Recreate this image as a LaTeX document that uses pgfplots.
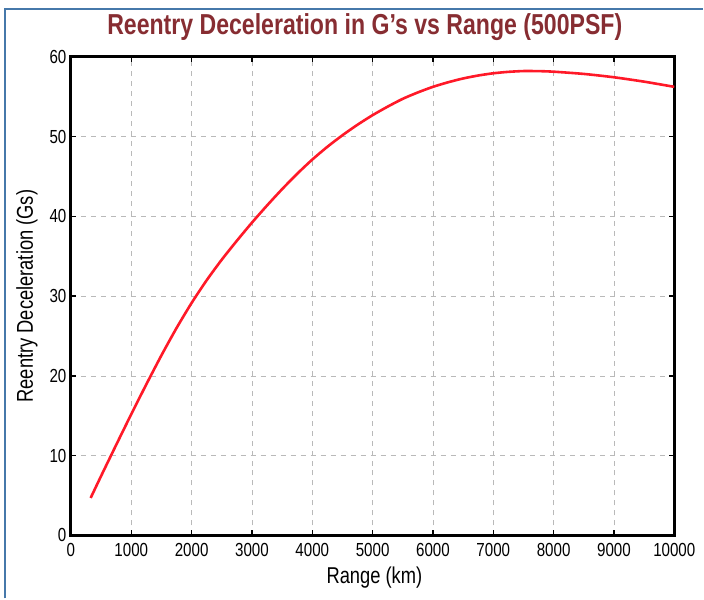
\documentclass[border=0pt]{standalone}
\usepackage{fontspec}
\setmainfont{Liberation Sans}[FakeStretch=0.8]
\usepackage{pgfplots}
\pgfplotsset{compat=1.18}
\definecolor{framec}{RGB}{70,120,170}
\definecolor{titlec}{RGB}{135,45,50}
\definecolor{gridc}{RGB}{185,185,185}
\definecolor{curvec}{RGB}{255,25,40}
\begin{document}
\begin{tikzpicture}[x=1bp,y=1bp]
\begin{axis}[
  at={(0,0)}, anchor=south west,
  width=604bp, height=479bp, scale only axis,
  xmin=0, xmax=10000, ymin=0, ymax=60,
  xtick distance=1000, ytick distance=10,
  scaled x ticks=false,
  /pgf/number format/1000 sep={},
  /pgf/number format/assume math mode=true,
  tick label style={font=\fontsize{19}{19}\selectfont, black},
  xticklabel style={yshift=-4bp},
  yticklabel style={xshift=-1bp},
  axis line style={black, line width=3bp},
  tick style={black, line width=1.5bp},
  major tick length=5bp,
  tick align=inside,
  grid=major,
  major grid style={gridc, line width=0.7bp, dash pattern=on 5bp off 5bp},
  xlabel={Range (km)},
  ylabel={Reentry Deceleration (Gs)},
  xlabel style={font=\fontsize{23}{23}\selectfont, at={(axis description cs:0.503,-0.088)}, anchor=center},
  ylabel style={font=\fontsize{23}{23}\selectfont, at={(axis description cs:-0.073,0.5)}, anchor=center},
  title={\textbf{Reentry Deceleration in G's vs Range (500PSF)}},
  title style={font=\fontsize{29}{29}\selectfont, color=titlec, at={(axis description cs:0.487,1.05)}, anchor=center},
]
\addplot[curvec, line width=2.6bp, smooth, tension=0.4] coordinates {
(327,4.7) (500,7.45) (750,11.35) (1000,15.2) (1250,18.95) (1500,22.58)
(1750,26.0) (2000,29.15) (2250,32.0) (2500,34.58) (2750,36.95) (3000,39.22)
(3250,41.37) (3500,43.42) (3750,45.35) (4000,47.13) (4250,48.73) (4500,50.18)
(4750,51.5) (5000,52.7) (5250,53.77) (5500,54.75) (5750,55.55) (6000,56.25)
(6250,56.82) (6500,57.3) (6750,57.67) (7000,57.95) (7250,58.13)
(7500,58.23) (7750,58.22) (8000,58.15) (8500,57.87) (9000,57.45) (9500,56.9) (10000,56.25)
};
\end{axis}
\draw[framec, line width=1.5bp] (-66,-63) -- (-66,527) -- (633,527);
\path[use as bounding box] (-71,-63) rectangle (633,536);
\end{tikzpicture}
\end{document}
